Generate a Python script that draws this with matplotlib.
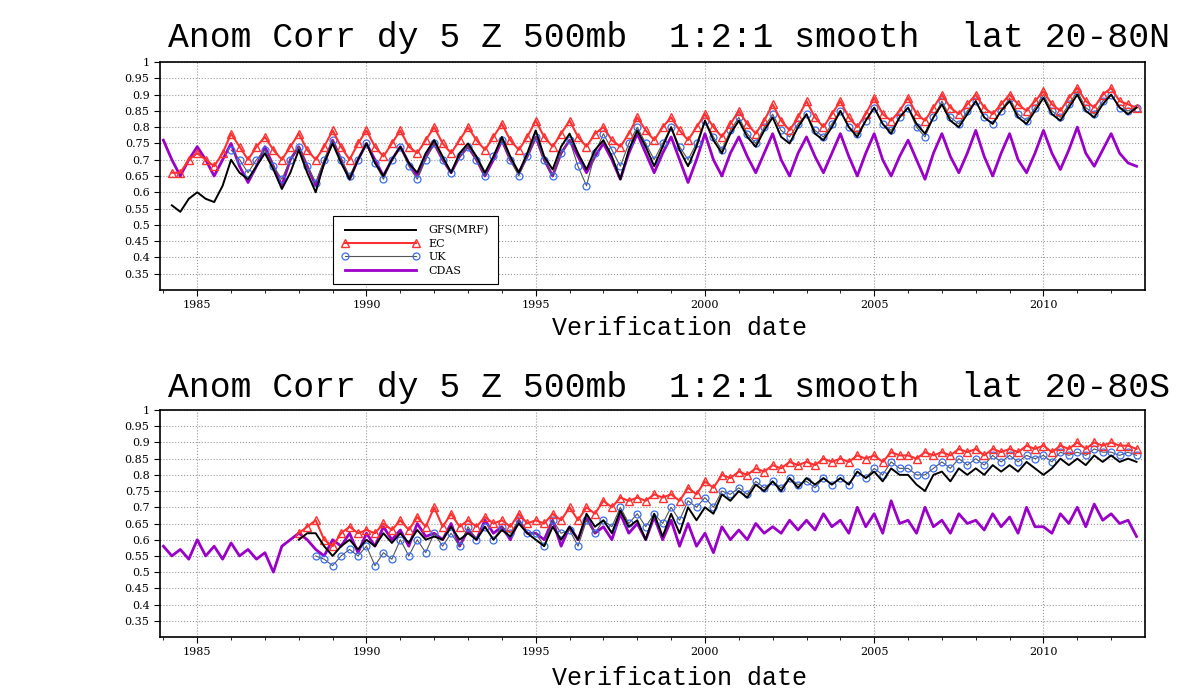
import matplotlib.pyplot as plt
import numpy as np

# quarterly values (Jan, Apr, Jul, Oct)
nh_cdas_start = 1984.0
nh_cdas = [.76, .70, .65, .70, .74, .70, .65, .70, .75, .68, .63, .68, .74, .68, .62, .70,
           .74, .68, .62, .69, .76, .70, .64, .70, .75, .70, .65, .70, .74, .69, .65, .71,
           .75, .70, .66, .71, .74, .70, .65, .70, .76, .70, .66, .71, .77, .70, .65, .72,
           .76, .71, .66, .71, .75, .70, .64, .72, .78, .72, .66, .72, .77, .70, .63, .70,
           .78, .70, .65, .72, .77, .71, .66, .72, .78, .70, .65, .72, .77, .71, .66, .72,
           .78, .71, .65, .72, .78, .70, .65, .71, .76, .70, .64, .72, .78, .71, .66, .72,
           .79, .71, .65, .72, .78, .70, .66, .72, .79, .72, .67, .73, .80, .72, .68, .73,
           .78, .72, .69, .68]
nh_gfs_start = 1984.25
nh_gfs = [.56, .54, .58, .60, .58, .57, .62, .70, .66, .64, .68, .72, .67, .61, .66,
          .73, .66, .60, .69, .75, .69, .64, .70, .75, .69, .65, .70, .74, .69, .66, .72,
          .76, .71, .66, .72, .75, .71, .66, .71, .77, .71, .66, .72, .79, .71, .67, .74,
          .78, .72, .67, .73, .76, .71, .64, .73, .79, .74, .68, .74, .80, .73, .68, .74,
          .82, .76, .72, .78, .82, .77, .74, .79, .83, .77, .75, .80, .84, .78, .76, .80,
          .85, .80, .77, .82, .86, .81, .78, .83, .86, .81, .78, .83, .87, .82, .80, .84,
          .88, .83, .81, .85, .88, .83, .81, .85, .89, .84, .82, .86, .90, .85, .83, .87,
          .90, .86, .84, .86]
nh_ec_start = 1984.25
nh_ec = [.66, .66, .70, .72, .70, .68, .72, .78, .74, .70, .74, .77, .73, .70, .74,
         .78, .73, .70, .74, .79, .74, .70, .75, .79, .74, .71, .75, .79, .74, .72, .76,
         .80, .75, .72, .76, .80, .76, .73, .77, .81, .76, .73, .77, .82, .77, .74, .78,
         .82, .77, .74, .78, .80, .76, .74, .78, .83, .79, .76, .80, .83, .79, .76, .80,
         .84, .80, .77, .81, .85, .81, .78, .82, .87, .82, .79, .83, .88, .83, .80, .84,
         .88, .83, .80, .84, .89, .84, .82, .85, .89, .84, .82, .86, .90, .86, .84, .87,
         .90, .86, .84, .87, .90, .87, .85, .88, .91, .87, .85, .89, .92, .88, .86, .90,
         .92, .88, .87, .86]
nh_uk_start = 1986.0
nh_uk = [.73, .70, .66, .70, .73, .68, .64, .70, .74, .68, .63, .70, .76, .70, .65, .70,
         .75, .69, .64, .70, .74, .68, .64, .70, .75, .70, .66, .71, .74, .70, .65, .71,
         .76, .70, .65, .71, .77, .70, .65, .72, .76, .68, .62, .72, .78, .73, .68, .75,
         .80, .75, .70, .75, .80, .74, .70, .75, .82, .77, .73, .79, .83, .78, .75, .80,
         .84, .79, .77, .81, .84, .79, .77, .81, .85, .80, .78, .82, .86, .81, .79, .83,
         .86, .80, .77, .83, .88, .83, .81, .85, .88, .83, .81, .85, .89, .84, .82, .86,
         .90, .85, .83, .87, .91, .86, .84, .88, .90, .86, .85, .86]

sh_cdas_start = 1984.0
sh_cdas = [.58, .55, .57, .54, .60, .55, .58, .54, .59, .55, .57, .54, .56, .50, .58, .60,
           .62, .60, .57, .55, .60, .58, .62, .56, .62, .58, .64, .60, .63, .58, .65, .61,
           .62, .60, .65, .58, .63, .60, .66, .62, .64, .60, .66, .62, .62, .60, .66, .58,
           .64, .60, .67, .62, .64, .60, .68, .62, .65, .60, .67, .60, .66, .58, .65, .58,
           .62, .56, .64, .60, .63, .60, .65, .62, .64, .62, .66, .63, .66, .63, .68, .64,
           .66, .62, .70, .64, .68, .62, .72, .65, .66, .62, .70, .64, .66, .62, .68, .65,
           .66, .63, .68, .64, .67, .62, .70, .64, .64, .62, .68, .65, .70, .64, .71, .66,
           .68, .65, .66, .61]
sh_gfs_start = 1988.0
sh_gfs = [.60, .62, .62, .58, .55, .58, .60, .57, .60, .58, .62, .59, .62, .59, .63, .60,
          .61, .60, .64, .60, .62, .60, .64, .60, .63, .61, .65, .62, .60, .58, .64, .60,
          .64, .60, .68, .64, .66, .62, .69, .64, .66, .60, .68, .61, .68, .62, .70, .66,
          .70, .68, .74, .72, .75, .73, .77, .75, .78, .75, .79, .76, .79, .77, .79, .77,
          .79, .77, .81, .79, .81, .78, .82, .80, .80, .77, .75, .80, .81, .78, .82, .80,
          .82, .80, .83, .81, .83, .81, .84, .82, .80, .82, .85, .83, .85, .83, .86, .84,
          .86, .84, .85, .84]
sh_ec_start = 1988.0
sh_ec = [.62, .64, .66, .60, .58, .62, .64, .62, .63, .62, .65, .63, .66, .63, .67, .64,
         .70, .64, .68, .64, .66, .64, .67, .65, .66, .64, .68, .65, .66, .65, .68, .66,
         .70, .66, .70, .68, .72, .70, .73, .72, .73, .72, .74, .73, .74, .72, .76, .74,
         .78, .76, .80, .79, .81, .80, .82, .81, .83, .82, .84, .83, .84, .83, .85, .84,
         .85, .84, .86, .85, .86, .84, .87, .86, .86, .85, .87, .86, .87, .86, .88, .87,
         .88, .86, .88, .87, .88, .87, .89, .88, .89, .87, .89, .88, .90, .88, .90, .89,
         .90, .89, .89, .88]
sh_uk_start = 1988.5
sh_uk = [.55, .54, .52, .55, .57, .55, .58, .52, .56, .54, .60, .55, .60, .56,
         .62, .58, .62, .58, .64, .60, .64, .60, .64, .62, .66, .62, .62, .58, .66, .62,
         .63, .58, .66, .62, .66, .64, .70, .65, .68, .64, .68, .65, .70, .66, .72, .70,
         .73, .70, .75, .74, .76, .74, .78, .76, .78, .76, .79, .77, .78, .76, .79, .77,
         .79, .77, .81, .79, .82, .80, .84, .82, .82, .80, .80, .82, .84, .82, .85, .83,
         .85, .83, .86, .84, .86, .84, .86, .85, .86, .84, .87, .86, .87, .86, .88, .87,
         .87, .86, .87, .86]

panels = [
    ("Anom Corr dy 5 Z 500mb  1:2:1 smooth  lat 20-80N",
     (nh_gfs_start, nh_gfs), (nh_ec_start, nh_ec), (nh_uk_start, nh_uk), (nh_cdas_start, nh_cdas)),
    ("Anom Corr dy 5 Z 500mb  1:2:1 smooth  lat 20-80S",
     (sh_gfs_start, sh_gfs), (sh_ec_start, sh_ec), (sh_uk_start, sh_uk), (sh_cdas_start, sh_cdas)),
]

def times(start, vals):
    return start + 0.25 * np.arange(len(vals))

fig = plt.figure(figsize=(12, 6.98), dpi=100)
rects = [[160/1200, 1-290/698, 985/1200, 228/698],
         [160/1200, 1-637/698, 985/1200, 227/698]]
title_y = [38, 388]
xlab_y = [328, 678]
mono = 'Liberation Mono'

for i, (title, gfs, ec, uk, cdas) in enumerate(panels):
    ax = fig.add_axes(rects[i])
    ax.plot(times(*cdas), cdas[1], color='#9a00c8', lw=2, label='CDAS')
    ax.plot(times(*uk), uk[1], color='#555555', lw=0.8, marker='o', ms=5, mfc='none',
            mec='#3a6ef0', mew=0.9, label='UK')
    ax.plot(times(*ec), ec[1], color='#ff3030', lw=1.5, marker='^', ms=6, mfc='none',
            mec='#ff3030', mew=1.0, label='EC')
    ax.plot(times(*gfs), gfs[1], color='black', lw=1.4, label='GFS(MRF)')
    ax.set_xlim(1983.9, 2013.0)
    ax.set_ylim(0.3, 1.0)
    ax.set_yticks(np.arange(0.35, 1.001, 0.05))
    ax.set_yticklabels(['%g' % v for v in np.round(np.arange(0.35, 1.001, 0.05), 2)],
                       fontsize=8, family='DejaVu Serif')
    ax.set_xticks(np.arange(1985, 2011, 5))
    ax.set_xticklabels([str(y) for y in range(1985, 2011, 5)], fontsize=8, family='DejaVu Serif')
    ax.set_xticks(np.arange(1984, 2013, 1), minor=True)
    ax.tick_params(direction='out', length=4)
    ax.grid(True, ls=':', color='#999999', lw=0.8)
    for s in ax.spines.values():
        s.set_linewidth(1.2)
    fig.text(168/1200, 1-title_y[i]/698, title, family=mono, fontsize=25, va='center', ha='left')
    fig.text(680/1200, 1-xlab_y[i]/698, 'Verification date', family=mono, fontsize=18,
             va='center', ha='center')
    if i == 0:
        h, l = ax.get_legend_handles_labels()
        leg = ax.legend(h[::-1], l[::-1], loc='lower left', bbox_to_anchor=(0.17, 0.0),
                        numpoints=2, handlelength=7, fancybox=False, framealpha=1,
                        edgecolor='black', prop={'family': 'DejaVu Serif', 'size': 8},
                        borderpad=0.8, labelspacing=0.3)
        leg.get_frame().set_linewidth(0.8)

fig.savefig('out.png', dpi=100)
